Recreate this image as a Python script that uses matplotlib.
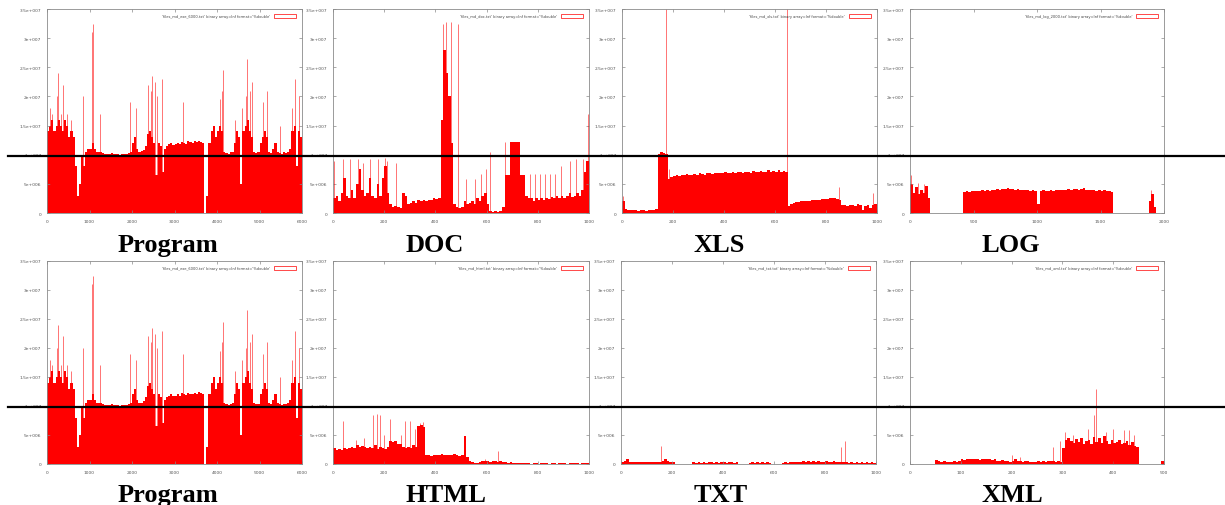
import numpy as np
import matplotlib
matplotlib.use("Agg")
import matplotlib.pyplot as plt
from matplotlib.patches import Rectangle

# ---------------- data (values in units of 1e6) ----------------
prog_step = 50
prog_vals = [14, 15, 16, 14, 15, 16, 15, 14, 16, 15, 13, 14, 13, 8, 3, 5, 10, 8, 10.5, 11,
             11, 12, 11, 10.5, 10.5, 10.5, 10.3, 10.2, 10.2, 10.1, 10.3, 10.2, 10.1, 10.2, 10, 10.1, 10.2, 10.1, 10.3, 10.5,
             12, 13, 11, 10.5, 10.6, 10.8, 11.5, 13.5, 14, 13, 12, 6.5, 12, 11.5, 7, 11, 11.5, 11.8, 12, 11.7,
             11.8, 12, 11.8, 12.2, 12, 11.9, 12.3, 12.1, 12, 12.3, 12.1, 12.4, 12.2, 12, 0, 3, 12, 14, 15, 13,
             14, 15, 14, 10.5, 10.3, 10.2, 10.4, 10.5, 12, 14, 13, 5, 14, 15, 16, 14, 13, 10.5, 10.3, 10.4,
             12, 13, 14, 13, 10.5, 10.3, 11, 12, 10.5, 10.3, 10.2, 10.4, 10.3, 10.5, 11, 14, 15, 8, 14, 13]
prog_spike_x = [70, 120, 230, 260, 330, 380, 470, 560, 850, 1060, 1080, 1250, 1950, 2090, 2380, 2440, 2470,
                2540, 2580, 2700, 3200, 4070, 4110, 4140, 4420, 4600, 4680, 4700, 4780, 4830, 5080, 5170,
                5480, 5760, 5840, 5920, 5990]
prog_spike_h = [18, 17, 20, 24, 17, 22, 17, 16, 20, 31, 32.5, 17, 19, 18, 22, 21, 23.5,
                22.5, 20, 23, 19, 19.5, 21, 24.5, 16, 18, 20, 26.5, 21, 22.5, 19, 21,
                15, 18, 23, 20, 22.5]

doc_step = 10
doc_vals = [2.5, 3, 2, 3.5, 6, 3, 2.5, 4, 2.5, 5,
            7.5, 4, 3, 3.5, 6, 3, 2.5, 5, 3, 6,
            8, 3.5, 1.5, 1, 1.2, 1, 0.8, 3.5, 3, 1.5,
            1.8, 2, 1.8, 2.2, 2, 2.2, 2.1, 2.3, 2.2, 2.6,
            2.4, 2.5, 16, 28, 24, 20, 12, 1.5, 1, 0.8,
            1, 2, 1.5, 1.8, 2, 1.5, 2.5, 2, 3, 3.5,
            1.5, 0.3, 0.2, 0.3, 0.2, 0.3, 1, 6.5, 6.5, 12.2,
            12.2, 12.2, 12.2, 6.5, 6.5, 3, 2.5, 2.5, 2, 2.5,
            2.3, 2.5, 2.2, 2.5, 2.4, 2.8, 2.5, 3, 2.6, 3,
            2.5, 3, 3.5, 2.8, 3, 3.5, 3, 4, 7, 9]
doc_spike_x = [5, 39, 65, 98, 117, 143, 176, 202, 210, 247, 430, 443, 462, 488, 521, 553, 579, 599, 612,
               673, 768, 788, 807, 827, 846, 866, 892, 924, 951, 977, 995]
doc_spike_h = [9, 9.3, 9.3, 9.3, 8.5, 9.3, 9.3, 9.5, 9, 8.5, 32.5, 32.7, 32.7, 32.5, 5.8, 5.8, 6.7, 7.5, 10.5,
               12.2, 6.7, 6.7, 6.7, 6.7, 6.7, 6.7, 8, 9, 9.3, 9.3, 17]

xls_step = 10
xls_vals = [2.0, 0.7, 0.6, 0.5, 0.6, 0.5, 0.4, 0.5, 0.5, 0.4, 0.5, 0.5, 0.6, 0.7,
            10.2, 10.4, 10.3, 10.1,
            5.9, 6.2, 6.4, 6.5, 6.3, 6.6, 6.5, 6.7, 6.6, 6.5,
            6.7, 6.6, 6.8, 6.7, 6.6, 6.8, 6.9, 6.7, 6.8, 6.9,
            6.8, 6.9, 7.0, 6.8, 6.9, 7.1, 6.9, 7.0, 7.1, 6.9,
            7.0, 7.1, 6.9, 7.2, 7.0, 7.1, 7.2, 7.0, 7.1, 7.3,
            7.1, 7.2, 7.0, 7.3, 7.1, 7.2, 7.0,
            1.2, 1.6, 1.8, 1.9, 1.9, 2.0, 2.0, 2.1, 2.1, 2.2, 2.2, 2.3, 2.3, 2.4, 2.4, 2.4, 2.5, 2.5, 2.5, 2.4,
            2.3, 1.4, 1.3, 1.2, 1.4, 1.3, 1.2, 1.5, 1.3, 0.6, 1.2, 1.4, 0.8, 1.3, 1.5]
xls_spike_x = [2, 172, 185, 648, 852, 984]
xls_spike_h = [3, 35, 7.5, 35, 4.5, 3.5]

log_step = 20
log_vals = [5, 3.5, 4.5, 3.2, 4, 3.5, 4.6, 2.5,
            0, 0, 0, 0, 0, 0, 0, 0, 0, 0, 0, 0, 0,
            3.6, 3.7, 3.6, 3.8, 3.7, 3.8, 3.7, 3.9, 3.8,
            3.9, 3.8, 4.0, 3.9, 4.1, 4.0, 4.2, 4.1, 4.3, 4.1,
            4.2, 4.0, 4.1, 3.9, 4.0, 3.9, 4.0, 3.8, 3.9, 3.8,
            1.5, 3.8, 3.9, 3.7, 3.8, 3.9, 3.8, 3.9, 4.0, 3.9,
            4.0, 3.9, 4.1, 4.0, 4.2, 4.1, 4.0, 4.1, 4.3, 4.0,
            4.0, 3.9, 4.0, 3.8, 3.9, 3.8, 3.9, 3.7, 3.8, 3.6,
            0, 0, 0, 0, 0, 0, 0, 0, 0, 0, 0, 0, 0, 0,
            2, 3.2, 1, 0, 0, 0]
log_spike_x = [6, 60, 110, 1895]
log_spike_h = [6.5, 5.2, 5, 4]

html_step = 10
html_vals = [2.8, 2.4, 2.6, 2.5, 2.7, 2.6, 2.8,
             3.0, 2.8, 3.2, 2.9, 3.1, 3.0, 2.7, 2.9,
             2.8, 3.2, 2.6, 3.0, 2.8, 2.6, 3.0,
             4.0, 3.8, 3.9,
             3.5, 3.4, 3.0, 2.8,
             3.0, 2.7, 3.2, 3.0,
             6.5, 6.8, 6.4,
             1.6, 1.5, 1.4, 1.6, 1.5, 1.5, 1.7, 1.6, 1.5, 1.6, 1.5, 1.7, 1.6, 1.4, 1.6,
             4.8,
             1.2, 0.6, 0.3,
             0.1, 0.2, 0.3, 0.5, 0.6, 0.5, 0.4, 0.6, 0.5, 0.4,
             0.5, 0.4, 0.3, 0.2, 0.3, 0.2, 0.1, 0.1, 0.1, 0.1,
             0.1, 0.1, 0.05, 0.1, 0.1, 0.05, 0.1, 0.1, 0.1, 0.05,
             0.1, 0.1, 0.05, 0.1, 0.1, 0.1, 0.05, 0.1, 0.1, 0.1,
             0.1, 0.05, 0.1, 0.2, 0.1]
html_spike_x = [39, 90, 120, 157, 170, 183, 200, 222, 265, 281, 300, 320, 340, 350, 595, 646]
html_spike_h = [7.5, 4.2, 4.5, 8.5, 8.7, 8.5, 5, 7.7, 5, 7.5, 7.5, 6, 7, 7.2, 0.8, 2.2]

txt_step = 10
txt_vals = [0.4, 0.5, 0.8, 0.4, 0.3, 0.4, 0.3, 0.4, 0.3, 0.4, 0.3, 0.4, 0.3, 0.4, 0.3, 0.4, 0.5, 0.9, 0.6, 0.4, 0.3,
            0, 0, 0, 0, 0, 0, 0,
            0.3, 0.2, 0.3, 0.2, 0.3, 0.2, 0.3, 0.3, 0.2, 0.3, 0.2, 0.3, 0.3, 0.2, 0.3, 0.3, 0.2, 0.3,
            0, 0, 0, 0,
            0.2, 0.3, 0.2, 0.3, 0.2, 0.3, 0.2, 0.3, 0.2,
            0, 0, 0, 0,
            0.2, 0.3, 0.2, 0.3, 0.4, 0.3, 0.4, 0.3, 0.5, 0.4, 0.6, 0.4, 0.5, 0.4, 0.5, 0.4, 0.3, 0.5, 0.4,
            0.3, 0.5, 0.4, 0.3, 0.4, 0.3, 0.3, 0.2, 0.3, 0.2, 0.3, 0.2, 0.3, 0.2, 0.3, 0.2, 0.3, 0.2]
txt_spike_x = [29, 157, 863, 878]
txt_spike_h = [0.8, 3.1, 3.0, 4.0]

xml_step = 5
xml_vals = [0, 0, 0, 0, 0, 0, 0, 0, 0, 0,
            0.7, 0.5, 0.4, 0.5, 0.3, 0.4, 0.3, 0.5, 0.4, 0.6,
            0.8, 0.7, 0.9, 0.8, 0.8, 0.9, 0.8, 0.7, 0.9, 0.8,
            0.9, 0.8, 0.7, 0.8,
            0.5, 0.6, 0.7, 0.5, 0.6, 0.4, 0.5, 0.8, 0.6, 0.5,
            0.4, 0.5, 0.6, 0.4, 0.3, 0.4, 0.5, 0.4, 0.5, 0.4,
            0.5, 0.6, 0.5,
            0.4, 0.5, 0.3,
            2.8, 4.2, 4.5, 4.0, 3.6, 4.3, 3.8, 4.5, 3.4, 3.9,
            4.2, 3.5, 4.6, 3.8, 4.4, 3.7, 4.8, 3.9, 3.5, 4.2,
            3.6, 3.8, 4.1, 3.4, 3.7, 4.0, 3.3, 3.8, 3.1, 2.9,
            0, 0, 0, 0, 0, 0, 0, 0, 0, 0.5]
xml_spike_x = [200, 216, 282, 295, 306, 321, 350, 362, 367, 385, 400, 421, 432, 440]
xml_spike_h = [1.5, 1.2, 3, 4, 5.5, 5, 6, 8.5, 13, 5.5, 6, 5.9, 5.9, 5]

y_ticks = [0, 5, 10, 15, 20, 25, 30, 35]
y_tick_labels = ['0', '5e+006', '1e+007', '1.5e+007', '2e+007', '2.5e+007', '3e+007', '3.5e+007']

panels = [
    # label, legend, values, step, spikes x, spikes h, xmax, xtick step, px (l, r, t, b), label x
    ("Program", "'files_md_exe_6000.txt' binary array=Inf format='%double'", prog_vals, prog_step,
     prog_spike_x, prog_spike_h, 6000, 1000, (47, 302, 10, 214), 118),
    ("DOC", "'files_md_doc.txt' binary array=Inf format='%double'", doc_vals, doc_step,
     doc_spike_x, doc_spike_h, 1000, 200, (333, 589, 10, 214), 406),
    ("XLS", "'files_md_xls.txt' binary array=Inf format='%double'", xls_vals, xls_step,
     xls_spike_x, xls_spike_h, 1000, 200, (622, 877, 10, 214), 693),
    ("LOG", "'files_md_log_2000.txt' binary array=Inf format='%double'", log_vals, log_step,
     log_spike_x, log_spike_h, 2000, 500, (910, 1164, 10, 214), 981),
    ("Program", "'files_md_exe_6000.txt' binary array=Inf format='%double'", prog_vals, prog_step,
     prog_spike_x, prog_spike_h, 6000, 1000, (47, 302, 262, 465), 118),
    ("HTML", "'files_md_html.txt' binary array=Inf format='%double'", html_vals, html_step,
     html_spike_x, html_spike_h, 1000, 200, (333, 589, 262, 465), 406),
    ("TXT", "'files_md_txt.txt' binary array=Inf format='%double'", txt_vals, txt_step,
     txt_spike_x, txt_spike_h, 1000, 200, (621, 876, 262, 465), 694),
    ("XML", "'files_md_xml.txt' binary array=Inf format='%double'", xml_vals, xml_step,
     xml_spike_x, xml_spike_h, 500, 100, (910, 1164, 262, 465), 982),
]

W, H = 1225, 506
fig = plt.figure(figsize=(W / 100, H / 100), dpi=100)
fig.patch.set_facecolor("white")

frame_col = "#8a8a8a"
text_col = "#555555"

for (label, legend, vals, step, sx, sh, xmax, xts, (l, r, t, b), lx) in panels:
    ax = fig.add_axes([l / W, 1 - b / H, (r - l) / W, (b - t) / H])
    edges = np.arange(len(vals) + 1) * step
    ax.stairs(vals, edges, fill=True, color="#ff0000", linewidth=0)
    ax.vlines(sx, 0, sh, color="#ff0000", linewidth=0.7, alpha=0.55)
    ax.set_xlim(0, xmax)
    ax.set_ylim(0, 35)
    ax.set_xticks(np.arange(0, xmax + 1, xts))
    ax.set_xticklabels([str(v) for v in np.arange(0, xmax + 1, xts)])
    ax.set_yticks(y_ticks)
    ax.set_yticklabels(y_tick_labels)
    ax.tick_params(direction="in", length=2, width=0.5, colors=frame_col,
                   labelcolor=text_col, labelsize=3.2, pad=4,
                   top=True, right=True)
    for s in ax.spines.values():
        s.set_color(frame_col)
        s.set_linewidth(0.6)
    # legend (gnuplot style)
    ax.text(0.875, 0.965, legend, transform=ax.transAxes, ha="right", va="center",
            fontsize=2.6, color="#444444")
    ax.add_patch(Rectangle((0.89, 0.955), 0.085, 0.02, transform=ax.transAxes,
                           fill=False, edgecolor="#ff0000", linewidth=0.5))
    # panel caption
    ybase = 252 if t < 100 else 502
    fig.text(lx / W, 1 - ybase / H, label, ha="left", va="baseline",
             fontsize=19, fontweight="bold", family="Liberation Serif", color="black")

# horizontal reference lines drawn on the slide
for yy in (157, 408):
    fig.add_artist(plt.Line2D([8 / W, 1.0], [1 - yy / H, 1 - yy / H],
                              transform=fig.transFigure, color="black", linewidth=1.6))

fig.savefig("out.png", dpi=100, facecolor="white")
